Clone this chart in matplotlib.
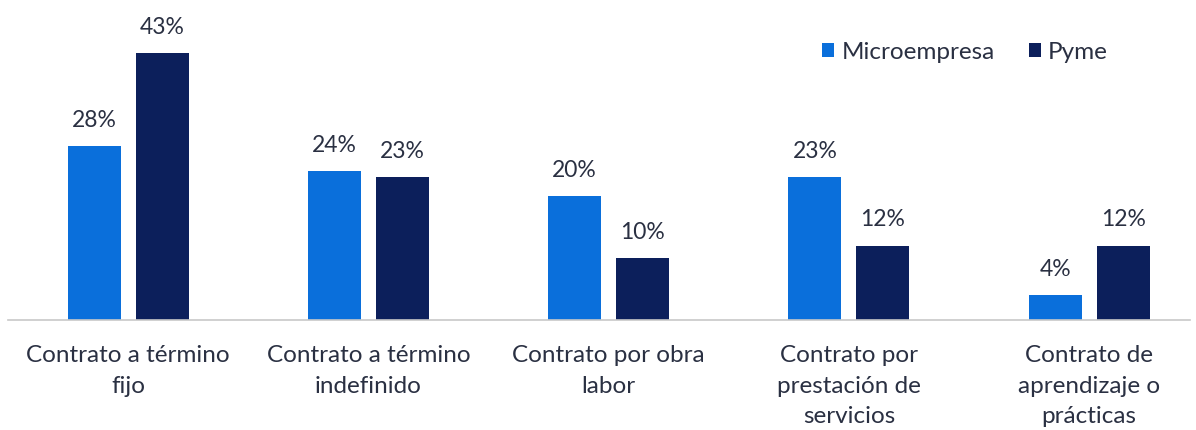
import numpy as np
import matplotlib.pyplot as plt

categorias = ["Contrato a término\nfijo", "Contrato a término\nindefinido",
              "Contrato por obra\nlabor", "Contrato por\nprestación de\nservicios",
              "Contrato de\naprendizaje o\nprácticas"]
microempresa = [28, 24, 20, 23, 4]
pyme = [43, 23, 10, 12, 12]

plt.rcParams['font.family'] = ['Lato', 'DejaVu Sans']
txt = '#2a3042'
c_micro = '#0A6FDB'
c_pyme = '#0C1F5B'

fig = plt.figure(figsize=(11.96, 4.30), dpi=100)
ax = fig.add_axes([8 / 1196, 110 / 430, 1182 / 1196, 320 / 430])

x = np.arange(len(categorias))
w = 53 / 240.2
off = 34 / 240.2
b1 = ax.bar(x - off, microempresa, w, color=c_micro, label='Microempresa')
b2 = ax.bar(x + off, pyme, w, color=c_pyme, label='Pyme')

for bars, vals in ((b1, microempresa), (b2, pyme)):
    for b, v in zip(bars, vals):
        ax.annotate(f"{v}%", (b.get_x() + b.get_width() / 2, v), xytext=(0, 11),
                    textcoords='offset points', ha='center', va='bottom',
                    fontsize=16.5, color=txt)

ax.set_xlim(-0.5, 4.42)
ax.set_ylim(0, 51.6)
ax.set_yticks([])
ax.set_xticks(x)
ax.set_xticklabels(categorias, fontsize=17.5, color=txt, linespacing=1.57)
ax.tick_params(axis='x', length=0, pad=18)
for s in ['top', 'right', 'left']:
    ax.spines[s].set_visible(False)
ax.spines['bottom'].set_color('#c8c8c8')
ax.spines['bottom'].set_linewidth(1.2)

ax.legend(loc='upper right', bbox_to_anchor=(1122 / 1182, 1 - 20 / 320), ncol=2,
          frameon=False, fontsize=17.5, labelcolor=txt, handlelength=0.5,
          handleheight=0.5, handletextpad=0.3, columnspacing=1.4)

fig.savefig('out.png', dpi=100)
